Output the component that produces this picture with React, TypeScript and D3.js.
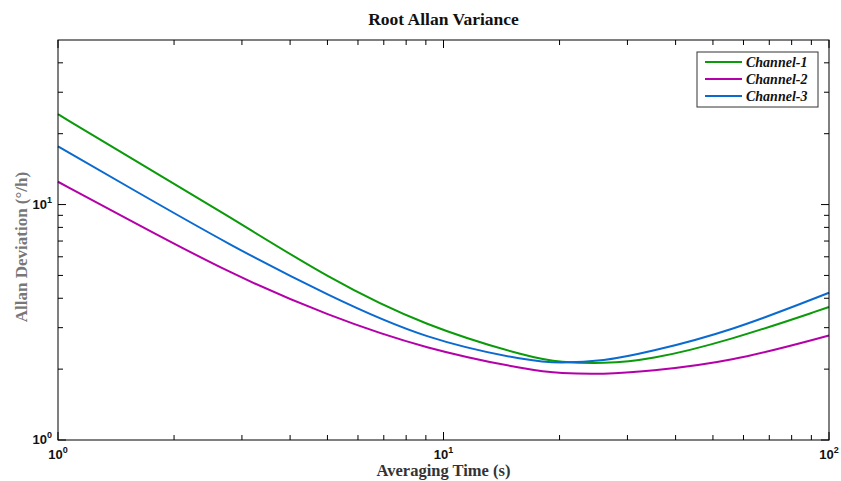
import React from "react";
import * as d3 from "d3";

const taus = [1, 1.5, 2.8, 5, 9, 17, 20, 26, 34, 55, 100];
const channel1 = [24.2, 16.2, 8.85, 4.88, 3.03, 2.23, 2.14, 2.11, 2.18, 2.64, 3.67];
const channel2 = [12.5, 8.76, 5.08, 3.38, 2.43, 1.97, 1.92, 1.9, 1.96, 2.14, 2.78];
const channel3 = [17.65, 12.05, 6.7, 4.12, 2.66, 2.15, 2.12, 2.16, 2.36, 2.88, 4.22];
const seriesNames = ["Channel-1", "Channel-2", "Channel-3"];
const seriesColors = ["#0a9a0a", "#b400a8", "#0a6ad0"];
const xMajor = [1, 10, 100];
const yMajor = [1, 10];

const W = 841, H = 481;
const L = 58, R = 829, T = 40, B = 440;

export default function App() {
  const x = d3.scaleLog().domain([1, 100]).range([L, R]);
  const y = d3.scaleLog().domain([1, 50]).range([B, T]);
  const data = [channel1, channel2, channel3];
  const line = d3
    .line<[number, number]>()
    .x((d) => x(d[0]))
    .y((d) => y(d[1]))
    .curve(d3.curveBasis);

  const xMinor: number[] = [];
  for (const dec of [1, 10]) for (let k = 2; k <= 9; k++) xMinor.push(dec * k);
  const yMinor: number[] = [];
  for (let k = 2; k <= 9; k++) yMinor.push(k);
  for (let k = 20; k <= 40; k += 10) yMinor.push(k);

  const major = 8, minor = 5;
  const tickFont = "'Liberation Sans', Arial, sans-serif";
  const serif = "'Liberation Serif', 'Times New Roman', serif";

  return (
    <svg width={W} height={H} style={{ position: "absolute", left: 0, top: 0, background: "#fff" }}>
      <rect x={0} y={0} width={W} height={H} fill="#fff" />
      <text x={(L + R) / 2} y={25} textAnchor="middle" fontFamily={serif} fontWeight="bold" fontSize={17.5} fill="#111">
        Root Allan Variance
      </text>
      {data.map((vals, i) => (
        <path
          key={i}
          d={line(taus.map((t, j) => [t, vals[j]] as [number, number])) || ""}
          fill="none"
          stroke={seriesColors[i]}
          strokeWidth={2}
        />
      ))}
      <rect x={L} y={T} width={R - L} height={B - T} fill="none" stroke="#000" strokeWidth={1} />
      {xMinor.map((v) => (
        <g key={"xm" + v}>
          <line x1={x(v)} x2={x(v)} y1={B} y2={B - minor} stroke="#000" />
          <line x1={x(v)} x2={x(v)} y1={T} y2={T + minor} stroke="#000" />
        </g>
      ))}
      {xMajor.map((v) => (
        <g key={"xM" + v}>
          <line x1={x(v)} x2={x(v)} y1={B} y2={B - major} stroke="#000" />
          <line x1={x(v)} x2={x(v)} y1={T} y2={T + major} stroke="#000" />
          <text x={x(v)} y={459} textAnchor="middle" fontFamily={tickFont} fontWeight="bold" fontSize={13} fill="#111">
            10<tspan dy={-6} fontSize={9}>{Math.round(Math.log10(v))}</tspan>
          </text>
        </g>
      ))}
      {yMinor.map((v) => (
        <g key={"ym" + v}>
          <line x1={L} x2={L + minor} y1={y(v)} y2={y(v)} stroke="#000" />
          <line x1={R} x2={R - minor} y1={y(v)} y2={y(v)} stroke="#000" />
        </g>
      ))}
      {yMajor.map((v) => (
        <g key={"yM" + v}>
          <line x1={L} x2={L + major} y1={y(v)} y2={y(v)} stroke="#000" />
          <line x1={R} x2={R - major} y1={y(v)} y2={y(v)} stroke="#000" />
          <text x={L - 6} y={y(v) + 4} textAnchor="end" fontFamily={tickFont} fontWeight="bold" fontSize={13} fill="#111">
            10<tspan dy={-6} fontSize={9}>{Math.round(Math.log10(v))}</tspan>
          </text>
        </g>
      ))}
      <text
        transform={`translate(27,247) rotate(-90)`}
        textAnchor="middle"
        fontFamily={serif}
        fontWeight="bold"
        fontSize={17}
        fill="#777"
      >
        Allan Deviation (°/h)
      </text>
      <text x={(L + R) / 2} y={476} textAnchor="middle" fontFamily={serif} fontWeight="bold" fontSize={16.5} fill="#333">
        Averaging Time (s)
      </text>
      <g>
        <rect x={697} y={52} width={121} height={55} fill="#fff" stroke="#333" strokeWidth={1} />
        {seriesNames.map((n, i) => (
          <g key={n}>
            <line x1={705} x2={742} y1={62 + i * 17} y2={62 + i * 17} stroke={seriesColors[i]} strokeWidth={2} />
            <text x={746} y={66.5 + i * 17} fontFamily={serif} fontStyle="italic" fontWeight="bold" fontSize={14} fill="#111">
              {n}
            </text>
          </g>
        ))}
      </g>
    </svg>
  );
}
